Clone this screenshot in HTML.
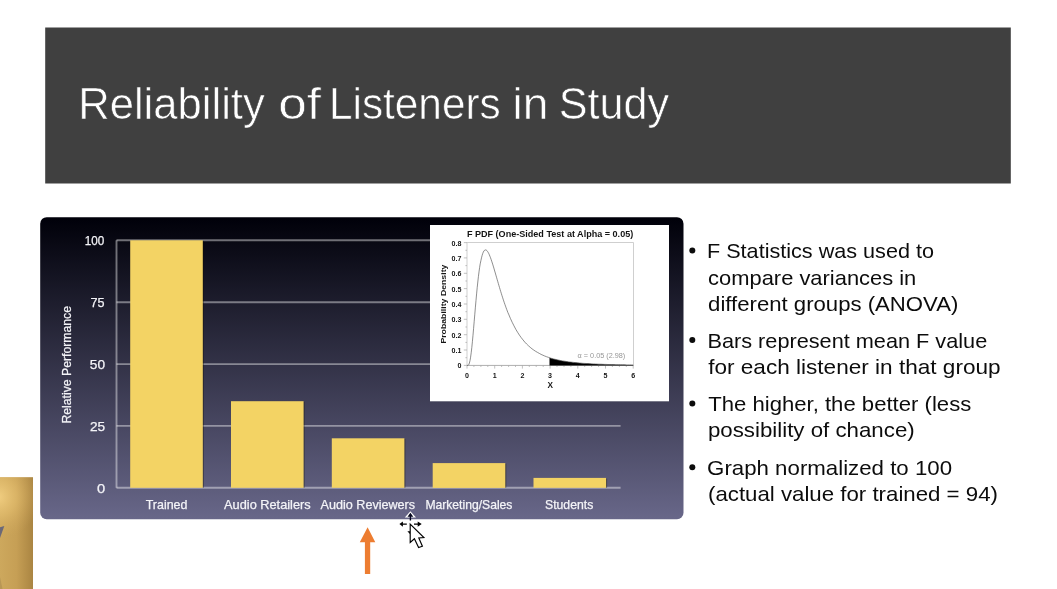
<!DOCTYPE html>
<html lang="en">
<head>
<meta charset="utf-8">
<title>Reliability of Listeners in Study</title>
<style>
  html, body { margin:0; padding:0; background:#fff; }
  body { width:1057px; height:589px; overflow:hidden; position:relative; }
  svg { position:absolute; left:0; top:0; display:block; will-change:transform; }
  text { font-family:"Liberation Sans", sans-serif; }
  .title { fill:#fff; stroke:#404040; stroke-width:0.6px; }
  .al { fill:#f4f4f8; stroke:#f4f4f8; stroke-width:0.25px; }
  .bt { fill:#0c0c0c; }
  .grid line { stroke:rgba(255,255,255,0.42); stroke-width:1.9; }
  .bars rect { fill:#f3d364; }
  .bars rect.sh { fill:rgba(20,16,0,0.42); }
  .bullets circle { fill:#0c0c0c; }
  .inset text { font-weight:bold; fill:#141414; }
  .iticks line { stroke:#a8a8a8; stroke-width:0.7; }
  .ilab text { font-size:7.1px; }
</style>
</head>
<body>
<svg width="1057" height="589" viewBox="0 0 1057 589">
  <defs>
    <linearGradient id="panel" x1="0" y1="0" x2="0" y2="1">
      <stop offset="0" stop-color="#000009"/>
      <stop offset="1" stop-color="#686789"/>
    </linearGradient>
    <linearGradient id="gold" x1="0" y1="0" x2="1" y2="0">
      <stop offset="0" stop-color="#cda85d"/>
      <stop offset="0.5" stop-color="#c69f55"/>
      <stop offset="1" stop-color="#aa8542"/>
    </linearGradient>
    <radialGradient id="goldhi" gradientUnits="userSpaceOnUse" cx="-2" cy="497" r="42">
      <stop offset="0" stop-color="#f3d083" stop-opacity="0.95"/>
      <stop offset="0.45" stop-color="#e6c070" stop-opacity="0.6"/>
      <stop offset="1" stop-color="#d0a85c" stop-opacity="0"/>
    </radialGradient>
  </defs>
  <rect x="0" y="0" width="1057" height="589" fill="#ffffff"/>

  <!-- title bar -->
  <rect x="45.2" y="27.5" width="965.6" height="156" fill="#404040"/>

  <!-- chart panel -->
  <rect x="40.2" y="217.2" width="643.3" height="302" rx="6.5" ry="6.5" fill="url(#panel)"/>
  <g class="grid">
    <line x1="116.5" x2="620.6" y1="240.3" y2="240.3"/>
    <line x1="116.5" x2="620.6" y1="302.2" y2="302.2"/>
    <line x1="116.5" x2="620.6" y1="364.1" y2="364.1"/>
    <line x1="116.5" x2="620.6" y1="425.9" y2="425.9"/>
    <line x1="116.5" x2="620.6" y1="487.8" y2="487.8"/>
    <line x1="116.5" x2="116.5" y1="240.3" y2="487.8"/>
  </g>
  <g class="bars">
    <rect class="sh" x="202.5" y="240.9" width="1.3" height="246.9"/>
    <rect x="130.2" y="240.3" width="72.6" height="247.5"/>
    <rect class="sh" x="303.3" y="401.8" width="1.3" height="86.0"/>
    <rect x="231.0" y="401.2" width="72.6" height="86.6"/>
    <rect class="sh" x="404.1" y="438.9" width="1.3" height="48.9"/>
    <rect x="331.8" y="438.3" width="72.6" height="49.5"/>
    <rect class="sh" x="505.0" y="463.7" width="1.3" height="24.1"/>
    <rect x="432.7" y="463.1" width="72.6" height="24.8"/>
    <rect class="sh" x="605.8" y="478.5" width="1.3" height="9.3"/>
    <rect x="533.5" y="477.9" width="72.6" height="9.9"/>
  </g>
  <text class="al" transform="translate(71.2 364.8) rotate(-90)" text-anchor="middle" font-size="12.4" textLength="117.5" lengthAdjust="spacingAndGlyphs">Relative Performance</text>

  <!-- inset F PDF plot -->
  <g class="inset">
    <rect x="430" y="225" width="239" height="176.3" fill="#ffffff"/>
    <rect x="467" y="242.6" width="166.4" height="122.8" fill="none" stroke="#c4c4c4" stroke-width="0.8"/>
    <g class="iticks">
      <line x1="467.0" x2="467.0" y1="365.4" y2="368.59999999999997"/>
      <line x1="473.9" x2="473.9" y1="365.4" y2="367.0"/>
      <line x1="480.9" x2="480.9" y1="365.4" y2="367.0"/>
      <line x1="487.8" x2="487.8" y1="365.4" y2="367.0"/>
      <line x1="494.7" x2="494.7" y1="365.4" y2="368.59999999999997"/>
      <line x1="501.6" x2="501.6" y1="365.4" y2="367.0"/>
      <line x1="508.6" x2="508.6" y1="365.4" y2="367.0"/>
      <line x1="515.5" x2="515.5" y1="365.4" y2="367.0"/>
      <line x1="522.4" x2="522.4" y1="365.4" y2="368.59999999999997"/>
      <line x1="529.3" x2="529.3" y1="365.4" y2="367.0"/>
      <line x1="536.2" x2="536.2" y1="365.4" y2="367.0"/>
      <line x1="543.2" x2="543.2" y1="365.4" y2="367.0"/>
      <line x1="550.1" x2="550.1" y1="365.4" y2="368.59999999999997"/>
      <line x1="557.0" x2="557.0" y1="365.4" y2="367.0"/>
      <line x1="564.0" x2="564.0" y1="365.4" y2="367.0"/>
      <line x1="570.9" x2="570.9" y1="365.4" y2="367.0"/>
      <line x1="577.8" x2="577.8" y1="365.4" y2="368.59999999999997"/>
      <line x1="584.7" x2="584.7" y1="365.4" y2="367.0"/>
      <line x1="591.6" x2="591.6" y1="365.4" y2="367.0"/>
      <line x1="598.6" x2="598.6" y1="365.4" y2="367.0"/>
      <line x1="605.5" x2="605.5" y1="365.4" y2="368.59999999999997"/>
      <line x1="612.4" x2="612.4" y1="365.4" y2="367.0"/>
      <line x1="619.4" x2="619.4" y1="365.4" y2="367.0"/>
      <line x1="626.3" x2="626.3" y1="365.4" y2="367.0"/>
      <line x1="633.2" x2="633.2" y1="365.4" y2="368.59999999999997"/>
      <line x1="463.8" x2="467.0" y1="365.4" y2="365.4"/>
      <line x1="465.4" x2="467.0" y1="357.7" y2="357.7"/>
      <line x1="463.8" x2="467.0" y1="350.0" y2="350.0"/>
      <line x1="465.4" x2="467.0" y1="342.4" y2="342.4"/>
      <line x1="463.8" x2="467.0" y1="334.7" y2="334.7"/>
      <line x1="465.4" x2="467.0" y1="327.0" y2="327.0"/>
      <line x1="463.8" x2="467.0" y1="319.3" y2="319.3"/>
      <line x1="465.4" x2="467.0" y1="311.7" y2="311.7"/>
      <line x1="463.8" x2="467.0" y1="304.0" y2="304.0"/>
      <line x1="465.4" x2="467.0" y1="296.3" y2="296.3"/>
      <line x1="463.8" x2="467.0" y1="288.6" y2="288.6"/>
      <line x1="465.4" x2="467.0" y1="281.0" y2="281.0"/>
      <line x1="463.8" x2="467.0" y1="273.3" y2="273.3"/>
      <line x1="465.4" x2="467.0" y1="265.6" y2="265.6"/>
      <line x1="463.8" x2="467.0" y1="257.9" y2="257.9"/>
      <line x1="465.4" x2="467.0" y1="250.3" y2="250.3"/>
      <line x1="463.8" x2="467.0" y1="242.6" y2="242.6"/>
      <line x1="467" x2="633.4" y1="365.4" y2="365.4" stroke-width="0.9"/>
    </g>
    <path d="M549.5,365.4 L549.5,357.8 L551.7,358.4 L553.8,359.0 L556.0,359.5 L558.1,360.0 L560.3,360.5 L562.4,360.9 L564.6,361.2 L566.7,361.6 L568.9,361.9 L571.0,362.1 L573.1,362.4 L575.3,362.6 L577.4,362.8 L579.6,363.0 L581.7,363.2 L583.9,363.4 L586.0,363.5 L588.2,363.6 L590.3,363.8 L592.4,363.9 L594.6,364.0 L596.7,364.1 L598.9,364.2 L601.0,364.2 L603.2,364.3 L605.3,364.4 L607.5,364.5 L609.6,364.5 L611.8,364.6 L613.9,364.6 L616.0,364.7 L618.2,364.7 L620.3,364.8 L622.5,364.8 L624.6,364.8 L626.8,364.9 L628.9,364.9 L631.1,364.9 L633.2,365.0 L633.2,365.4 Z" fill="#000"/>
    <path d="M467.0,365.4 L467.6,365.4 L468.2,365.2 L468.8,364.5 L469.4,363.0 L470.0,360.6 L470.6,357.2 L471.2,352.8 L471.8,347.6 L472.4,341.7 L473.0,335.2 L473.6,328.3 L474.2,321.3 L474.8,314.2 L475.4,307.2 L476.0,300.4 L476.6,293.9 L477.2,287.7 L477.8,282.0 L478.4,276.7 L479.0,271.9 L479.6,267.6 L480.2,263.9 L480.9,260.6 L481.5,257.8 L482.1,255.5 L482.7,253.6 L483.3,252.1 L483.9,251.0 L484.5,250.3 L485.1,250.0 L485.7,249.9 L486.3,250.1 L486.9,250.6 L487.5,251.4 L488.1,252.3 L488.7,253.4 L489.3,254.7 L489.9,256.2 L490.5,257.7 L491.1,259.4 L491.7,261.2 L492.3,263.0 L492.9,264.9 L493.5,266.9 L494.1,268.9 L494.7,271.0 L495.3,273.0 L495.9,275.1 L496.5,277.2 L497.1,279.3 L497.7,281.3 L498.3,283.4 L498.9,285.5 L499.5,287.5 L500.1,289.5 L500.7,291.5 L501.3,293.4 L501.9,295.4 L502.5,297.2 L503.1,299.1 L503.7,300.9 L504.3,302.7 L504.9,304.4 L505.5,306.1 L506.1,307.8 L506.7,309.4 L507.3,311.0 L507.9,312.6 L508.6,314.1 L510.4,318.4 L512.2,322.3 L514.0,325.9 L515.8,329.3 L517.6,332.3 L519.4,335.1 L521.2,337.6 L523.0,339.9 L524.8,342.1 L526.6,344.0 L528.4,345.7 L530.2,347.3 L532.0,348.8 L533.8,350.1 L535.6,351.3 L537.5,352.4 L539.3,353.4 L541.1,354.4 L542.9,355.2 L544.7,356.0 L546.5,356.7 L548.3,357.3 L550.1,357.9 L551.9,358.5 L553.7,359.0 L555.5,359.4 L557.3,359.9 L559.1,360.2 L560.9,360.6 L562.7,360.9 L564.6,361.2 L566.4,361.5 L568.2,361.8 L570.0,362.0 L571.8,362.2 L573.6,362.4 L575.4,362.6 L577.2,362.8 L579.0,363.0 L580.8,363.1 L582.6,363.3 L584.4,363.4 L586.2,363.5 L588.0,363.6 L589.8,363.7 L591.6,363.8 L593.5,363.9 L595.3,364.0 L597.1,364.1 L598.9,364.2 L600.7,364.2 L602.5,364.3 L604.3,364.4 L606.1,364.4 L607.9,364.5 L609.7,364.5 L611.5,364.6 L613.3,364.6 L615.1,364.7 L616.9,364.7 L618.7,364.7 L620.6,364.8 L622.4,364.8 L624.2,364.8 L626.0,364.9 L627.8,364.9 L629.6,364.9 L631.4,364.9 L633.2,365.0" fill="none" stroke="#505050" stroke-width="0.65"/>
    <text x="550.1" y="237.1" text-anchor="middle" font-size="8.3" textLength="166.3" lengthAdjust="spacingAndGlyphs">F PDF (One-Sided Test at Alpha = 0.05)</text>
    <g class="ilab">
      <text x="467.0" y="377.6" text-anchor="middle">0</text>
      <text x="494.7" y="377.6" text-anchor="middle">1</text>
      <text x="522.4" y="377.6" text-anchor="middle">2</text>
      <text x="550.1" y="377.6" text-anchor="middle">3</text>
      <text x="577.8" y="377.6" text-anchor="middle">4</text>
      <text x="605.5" y="377.6" text-anchor="middle">5</text>
      <text x="633.2" y="377.6" text-anchor="middle">6</text>
      <text x="461.4" y="368.4" text-anchor="end">0</text>
      <text x="461.4" y="353.0" text-anchor="end">0.1</text>
      <text x="461.4" y="337.7" text-anchor="end">0.2</text>
      <text x="461.4" y="322.3" text-anchor="end">0.3</text>
      <text x="461.4" y="307.0" text-anchor="end">0.4</text>
      <text x="461.4" y="291.6" text-anchor="end">0.5</text>
      <text x="461.4" y="276.3" text-anchor="end">0.6</text>
      <text x="461.4" y="260.9" text-anchor="end">0.7</text>
      <text x="461.4" y="245.6" text-anchor="end">0.8</text>
    </g>
    <text x="550.2" y="388.2" text-anchor="middle" font-size="8.2">X</text>
    <text transform="translate(445.8 304.1) rotate(-90)" text-anchor="middle" font-size="7.5" textLength="79" lengthAdjust="spacingAndGlyphs">Probability Density</text>
    <text x="577.6" y="357.6" font-size="6.4" style="font-weight:normal;fill:#969696" textLength="47.7" lengthAdjust="spacingAndGlyphs">α = 0.05 (2.98)</text>
  </g>

  <!-- text: title, bullets, axis labels -->
  <g class="bullets">
    <circle cx="692.3" cy="250.6" r="3"/>
    <circle cx="692.3" cy="340.0" r="3"/>
    <circle cx="692.3" cy="403.5" r="3"/>
    <circle cx="692.3" cy="467.2" r="3"/>
  </g>
  <text class="title" y="119.3" font-size="45.0"><tspan x="78.15" textLength="186.64" lengthAdjust="spacingAndGlyphs">Reliability</tspan> <tspan x="278.24" textLength="42.77" lengthAdjust="spacingAndGlyphs">of</tspan> <tspan x="329.00" textLength="171.64" lengthAdjust="spacingAndGlyphs">Listeners</tspan> <tspan x="512.62" textLength="35.81" lengthAdjust="spacingAndGlyphs">in</tspan> <tspan x="558.79" textLength="110.25" lengthAdjust="spacingAndGlyphs">Study</tspan></text>
  <text class="bt" x="706.99" y="258.4" font-size="21.0" textLength="227.01" lengthAdjust="spacingAndGlyphs">F Statistics was used to</text>
  <text class="bt" x="708.11" y="284.6" font-size="21.0" textLength="208.18" lengthAdjust="spacingAndGlyphs">compare variances in</text>
  <text class="bt" x="708.10" y="310.7" font-size="21.0" textLength="250.20" lengthAdjust="spacingAndGlyphs">different groups (ANOVA)</text>
  <text class="bt" x="707.47" y="347.6" font-size="21.0" textLength="279.74" lengthAdjust="spacingAndGlyphs">Bars represent mean F value</text>
  <text class="bt" x="708.20" y="373.9" font-size="21.0" textLength="292.40" lengthAdjust="spacingAndGlyphs">for each listener in that group</text>
  <text class="bt" x="708.20" y="411.1" font-size="21.0" textLength="263.06" lengthAdjust="spacingAndGlyphs">The higher, the better (less</text>
  <text class="bt" x="707.91" y="436.8" font-size="21.0" textLength="206.81" lengthAdjust="spacingAndGlyphs">possibility of chance)</text>
  <text class="bt" x="707.10" y="474.8" font-size="21.0" textLength="244.93" lengthAdjust="spacingAndGlyphs">Graph normalized to 100</text>
  <text class="bt" x="708.00" y="500.6" font-size="21.0" textLength="289.93" lengthAdjust="spacingAndGlyphs">(actual value for trained = 94)</text>
  <text class="al" x="145.72" y="508.8" font-size="12.4" textLength="41.70" lengthAdjust="spacingAndGlyphs">Trained</text>
  <text class="al" x="224.10" y="508.8" font-size="12.4" textLength="86.56" lengthAdjust="spacingAndGlyphs">Audio Retailers</text>
  <text class="al" x="320.59" y="508.8" font-size="12.4" textLength="94.53" lengthAdjust="spacingAndGlyphs">Audio Reviewers</text>
  <text class="al" x="425.39" y="508.8" font-size="12.4" textLength="87.07" lengthAdjust="spacingAndGlyphs">Marketing/Sales</text>
  <text class="al" x="545.01" y="508.8" font-size="12.4" textLength="48.25" lengthAdjust="spacingAndGlyphs">Students</text>
  <text class="al" x="84.86" y="245.3" font-size="12.8" textLength="19.50" lengthAdjust="spacingAndGlyphs">100</text>
  <text class="al" x="90.50" y="307.4" font-size="12.8" textLength="14.00" lengthAdjust="spacingAndGlyphs">75</text>
  <text class="al" x="89.84" y="369.3" font-size="12.8" textLength="15.22" lengthAdjust="spacingAndGlyphs">50</text>
  <text class="al" x="89.90" y="431.4" font-size="12.8" textLength="15.20" lengthAdjust="spacingAndGlyphs">25</text>
  <text class="al" x="97.09" y="492.9" font-size="12.8" textLength="8.19" lengthAdjust="spacingAndGlyphs">0</text>

  <!-- gold thumbnail bottom-left -->
  <rect x="0" y="477.2" width="33" height="112" fill="url(#gold)"/>
  <rect x="0" y="477.2" width="33" height="112" fill="url(#goldhi)"/>
  <path d="M0,527.2 L4.3,526 L0,538 Z" fill="#6b6878"/>
  <path d="M0,577 L2.5,589 L0,589 Z" fill="#9a7c4c" opacity="0.4"/>

  <!-- orange arrow -->
  <path d="M367.6,527.2 L375.3,542.3 L370.2,542.3 L370.2,573.9 L364.9,573.9 L364.9,542.3 L359.8,542.3 Z" fill="#ed7d31"/>

  <!-- cursor -->
  <g>
    <path d="M410.4,511.3 L416,517.6 L404.8,517.6 Z" fill="#fff"/>
    <path d="M410.4,512.8 L413.3,516.8 L411.1,516.8 L411.1,520.6 L409.7,520.6 L409.7,516.8 L407.5,516.8 Z" fill="#05051e"/>
    <path d="M399.4,524.1 L402.9,521.5 L402.9,523.5 L406.8,523.5 L406.8,524.7 L402.9,524.7 L402.9,526.7 Z" fill="#000"/>
    <path d="M421.7,524.1 L417.7,521.5 L417.7,523.5 L414,523.5 L414,524.7 L417.7,524.7 L417.7,526.7 Z" fill="#000"/>
    <path d="M407.4,531.3 L410.4,531.3 L410.4,534.6 Z" fill="#000"/>
    <path d="M410.2,524.2 L410.2,542.4 L414.4,538.7 L418.6,547.5 L422.4,546.2 L418.8,538 L423.9,537.5 Z" fill="#fff" stroke="#000" stroke-width="1.15" stroke-linejoin="miter"/>
  </g>
</svg>
</body>
</html>
